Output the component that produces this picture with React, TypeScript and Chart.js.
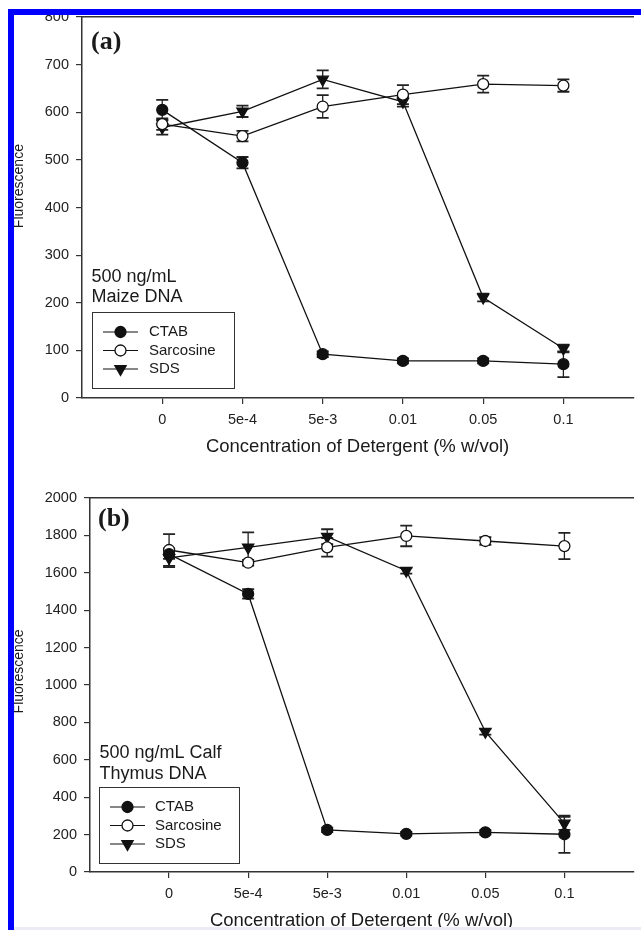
import React, { useEffect, useRef } from "react";
import { Chart, registerables } from "chart.js";

Chart.register(...registerables);

// ---------- data ----------
const categories = ["0", "5e-4", "5e-3", "0.01", "0.05", "0.1"];
const seriesNames = ["CTAB", "Sarcosine", "SDS"];

// Panel (a): 500 ng/mL Maize DNA
const maizeCTAB = [605, 494, 92, 78, 78, 71];
const maizeCTABErr = [21, 12, 6, 5, 5, 27];
const maizeSarcosine = [575, 550, 612, 637, 659, 656];
const maizeSarcosineErr = [12, 11, 24, 20, 18, 13];
const maizeSDS = [568, 602, 669, 622, 211, 104];
const maizeSDSErr = [15, 12, 19, 10, 8, 8];

// Panel (b): 500 ng/mL Calf Thymus DNA
const calfCTAB = [1700, 1487, 225, 204, 212, 202];
const calfCTABErr = [25, 25, 12, 10, 12, 100];
const calfSarcosine = [1722, 1654, 1736, 1797, 1770, 1743];
const calfSarcosineErr = [85, 15, 50, 55, 20, 70];
const calfSDS = [1680, 1736, 1793, 1611, 750, 260];
const calfSDSErr = [50, 80, 40, 15, 15, 35];

const maizeNote = ["500 ng/mL", "Maize DNA"];
const calfNote = ["500 ng/mL Calf", "Thymus DNA"];
const xTitle = "Concentration of Detergent (% w/vol)";
const yTitle = "Fluorescence";

// ---------- styles ----------
const INK = "#111";
const AXIS = "#333";
const SANS = "'Liberation Sans', Arial, sans-serif";
const SERIF = "'Liberation Serif', 'Times New Roman', serif";

const seriesStyles = [
  { pointStyle: "circle", fill: "#111", radius: 5.5, rotation: 0 },
  { pointStyle: "circle", fill: "#fff", radius: 5.5, rotation: 0 },
  { pointStyle: "triangle", fill: "#111", radius: 6.5, rotation: 180 },
];

function drawMarker(ctx: CanvasRenderingContext2D, st: any, x: number, y: number) {
  ctx.beginPath();
  if (st.pointStyle === "triangle") {
    let rad = (st.rotation * Math.PI) / 180;
    const r = st.radius;
    ctx.moveTo(x + Math.sin(rad) * r, y - Math.cos(rad) * r);
    rad += (2 * Math.PI) / 3;
    ctx.lineTo(x + Math.sin(rad) * r, y - Math.cos(rad) * r);
    rad += (2 * Math.PI) / 3;
    ctx.lineTo(x + Math.sin(rad) * r, y - Math.cos(rad) * r);
    ctx.closePath();
  } else {
    ctx.arc(x, y, st.radius, 0, Math.PI * 2);
  }
  ctx.fillStyle = st.fill;
  ctx.fill();
  ctx.strokeStyle = INK;
  ctx.lineWidth = 1.3;
  ctx.stroke();
}

const errorBarPlugin = {
  id: "errorBars",
  beforeDatasetsDraw(chart: any) {
    const ctx = chart.ctx as CanvasRenderingContext2D;
    const yScale = chart.scales.y;
    chart.data.datasets.forEach((ds: any, i: number) => {
      const meta = chart.getDatasetMeta(i);
      const errs: number[] = ds.errors;
      if (!errs) return;
      ctx.save();
      ctx.strokeStyle = "#222";
      meta.data.forEach((pt: any, j: number) => {
        const v = ds.data[j].y;
        const e = errs[j];
        const yT = yScale.getPixelForValue(v + e);
        const yB = yScale.getPixelForValue(v - e);
        const x = pt.x;
        const cap = 6;
        ctx.lineWidth = 1.3;
        ctx.beginPath();
        ctx.moveTo(x, yT);
        ctx.lineTo(x, yB);
        ctx.stroke();
        ctx.lineWidth = 1.8;
        ctx.beginPath();
        ctx.moveTo(x - cap, yT);
        ctx.lineTo(x + cap, yT);
        ctx.moveTo(x - cap, yB);
        ctx.lineTo(x + cap, yB);
        ctx.stroke();
      });
      ctx.restore();
    });
  },
};

const decorPlugin = {
  id: "panelDecor",
  afterDatasetsDraw(chart: any, _args: any, o: any) {
    const ctx = chart.ctx as CanvasRenderingContext2D;
    const ca = chart.chartArea;
    ctx.save();
    // panel tag
    ctx.font = `bold 26px ${SERIF}`;
    ctx.fillStyle = "#1a1a1a";
    ctx.textAlign = "left";
    ctx.textBaseline = "alphabetic";
    ctx.fillText(o.tag, ca.left + o.tagDx, ca.top + o.tagDy);

    // legend box
    const bx = ca.left + o.boxDx;
    const by = ca.bottom - o.boxDb - o.boxH;
    ctx.fillStyle = "#fff";
    ctx.fillRect(bx, by, o.boxW, o.boxH);
    ctx.strokeStyle = AXIS;
    ctx.lineWidth = 1;
    ctx.strokeRect(Math.round(bx) + 0.5, Math.round(by) + 0.5, o.boxW, o.boxH);

    // note
    ctx.font = `18px ${SANS}`;
    ctx.fillStyle = "#1a1a1a";
    ctx.textBaseline = "middle";
    o.note.forEach((line: string, k: number) => {
      ctx.fillText(line, ca.left + o.noteDx, by + o.noteDy[k]);
    });

    // legend rows
    const rows = [20, 38.5, 57];
    chart.data.datasets.forEach((ds: any, i: number) => {
      const y = by + rows[i];
      ctx.strokeStyle = INK;
      ctx.lineWidth = 1.2;
      ctx.beginPath();
      ctx.moveTo(bx + 11, y);
      ctx.lineTo(bx + 46, y);
      ctx.stroke();
      drawMarker(ctx, seriesStyles[i], bx + 28.5, y);
      ctx.font = `15px ${SANS}`;
      ctx.fillStyle = "#1a1a1a";
      ctx.textBaseline = "middle";
      ctx.fillText(ds.label, bx + o.textDx, y);
    });
    ctx.restore();
  },
};

type PanelProps = {
  series: number[][];
  errors: number[][];
  yMax: number;
  yStep: number;
  top: number;
  height: number;
  axisLeft: number;
  padTop: number;
  titleShift: number;
  decor: any;
};

function Panel(p: PanelProps) {
  const ref = useRef<HTMLCanvasElement | null>(null);
  useEffect(() => {
    if (!ref.current) return;
    const xMax = 5.87;
    const tickFont = { family: SANS, size: 14.5 };
    const chart = new Chart(ref.current, {
      type: "line",
      data: {
        datasets: p.series.map((vals, i) => ({
          label: seriesNames[i],
          data: vals.map((v, j) => ({ x: j, y: v })),
          errors: p.errors[i],
          borderColor: INK,
          borderWidth: 1.3,
          pointStyle: seriesStyles[i].pointStyle,
          pointRadius: seriesStyles[i].radius,
          pointRotation: seriesStyles[i].rotation,
          pointBackgroundColor: seriesStyles[i].fill,
          pointBorderColor: INK,
          pointBorderWidth: 1.3,
          tension: 0,
          fill: false,
        })) as any,
      },
      options: {
        animation: false,
        responsive: false,
        maintainAspectRatio: false,
        events: [],
        layout: { padding: { left: 0, top: p.padTop, right: 0, bottom: 0 } },
        plugins: {
          legend: { display: false },
          tooltip: { enabled: false },
          panelDecor: p.decor,
        } as any,
        scales: {
          x: {
            type: "linear",
            position: "bottom",
            min: -1,
            max: xMax,
            afterBuildTicks: (s: any) => {
              s.ticks = categories.map((_, i) => ({ value: i }));
            },
            afterFit: (s: any) => {
              s.height = 60;
            },
            ticks: {
              callback: (v: any) => categories[v as number] ?? "",
              font: tickFont,
              color: "#222",
              padding: 7,
              autoSkip: false,
              maxRotation: 0,
            },
            grid: { drawOnChartArea: false, drawTicks: true, tickLength: 6, color: AXIS, lineWidth: 1.2 },
            border: { color: AXIS, width: 1.5 },
            title: {
              display: true,
              text: xTitle,
              font: { family: SANS, size: 18.5 },
              color: "#1a1a1a",
              padding: { top: 0, bottom: 0 },
            },
          },
          xTop: {
            type: "linear",
            position: "top",
            min: -1,
            max: xMax,
            afterFit: (s: any) => {
              s.height = 0;
            },
            ticks: { display: false },
            grid: { display: false, drawTicks: false },
            border: { color: AXIS, width: 1.5 },
          },
          y: {
            type: "linear",
            position: "left",
            min: 0,
            max: p.yMax,
            afterFit: (s: any) => {
              s.width = p.axisLeft;
            },
            ticks: {
              stepSize: p.yStep,
              font: tickFont,
              color: "#222",
              padding: 7,
              callback: (v: any) => String(v),
            },
            grid: { drawOnChartArea: false, drawTicks: true, tickLength: 6, color: AXIS, lineWidth: 1.2 },
            border: { color: AXIS, width: 1.5 },
            title: {
              display: true,
              text: " ".repeat(p.titleShift) + yTitle,
              font: { family: SANS, size: 14 },
              color: "#1a1a1a",
              padding: { top: 11, bottom: 0 },
            },
          },
        } as any,
      },
      plugins: [errorBarPlugin, decorPlugin],
    });
    return () => chart.destroy();
  }, []);
  return (
    <canvas
      ref={ref}
      width={641}
      height={p.height}
      style={{ position: "absolute", left: 0, top: p.top, width: 641, height: p.height, display: "block" }}
    />
  );
}

export default function App() {
  return (
    <div
      style={{
        position: "absolute",
        left: 0,
        top: 0,
        width: 641,
        height: 930,
        overflow: "hidden",
        background: "#fff",
      }}
    >
      <Panel
        series={[maizeCTAB, maizeSarcosine, maizeSDS]}
        errors={[maizeCTABErr, maizeSarcosineErr, maizeSDSErr]}
        yMax={800}
        yStep={100}
        top={0}
        height={458}
        axisLeft={82}
        padTop={17}
        titleShift={11}
        decor={{
          tag: "(a)",
          tagDx: 9,
          tagDy: 31.6,
          note: maizeNote,
          noteDx: 9.5,
          noteDy: [-35, -15],
          boxDx: 10,
          boxDb: 10,
          boxW: 142,
          boxH: 76,
          textDx: 57,
        }}
      />
      <Panel
        series={[calfCTAB, calfSarcosine, calfSDS]}
        errors={[calfCTABErr, calfSarcosineErr, calfSDSErr]}
        yMax={2000}
        yStep={200}
        top={458}
        height={474}
        axisLeft={90}
        padTop={40}
        titleShift={7}
        decor={{
          tag: "(b)",
          tagDx: 8,
          tagDy: 28,
          note: calfNote,
          noteDx: 9.5,
          noteDy: [-34, -13],
          boxDx: 9,
          boxDb: 9,
          boxW: 140,
          boxH: 76,
          textDx: 56,
        }}
      />
      <div style={{ position: "absolute", left: 8, top: 9, width: 633, height: 6, background: "#0000ff" }} />
      <div style={{ position: "absolute", left: 8, top: 9, width: 6, height: 921, background: "#0000ff" }} />
      <div style={{ position: "absolute", left: 14, top: 927, width: 627, height: 3, background: "#ececf6" }} />
    </div>
  );
}
